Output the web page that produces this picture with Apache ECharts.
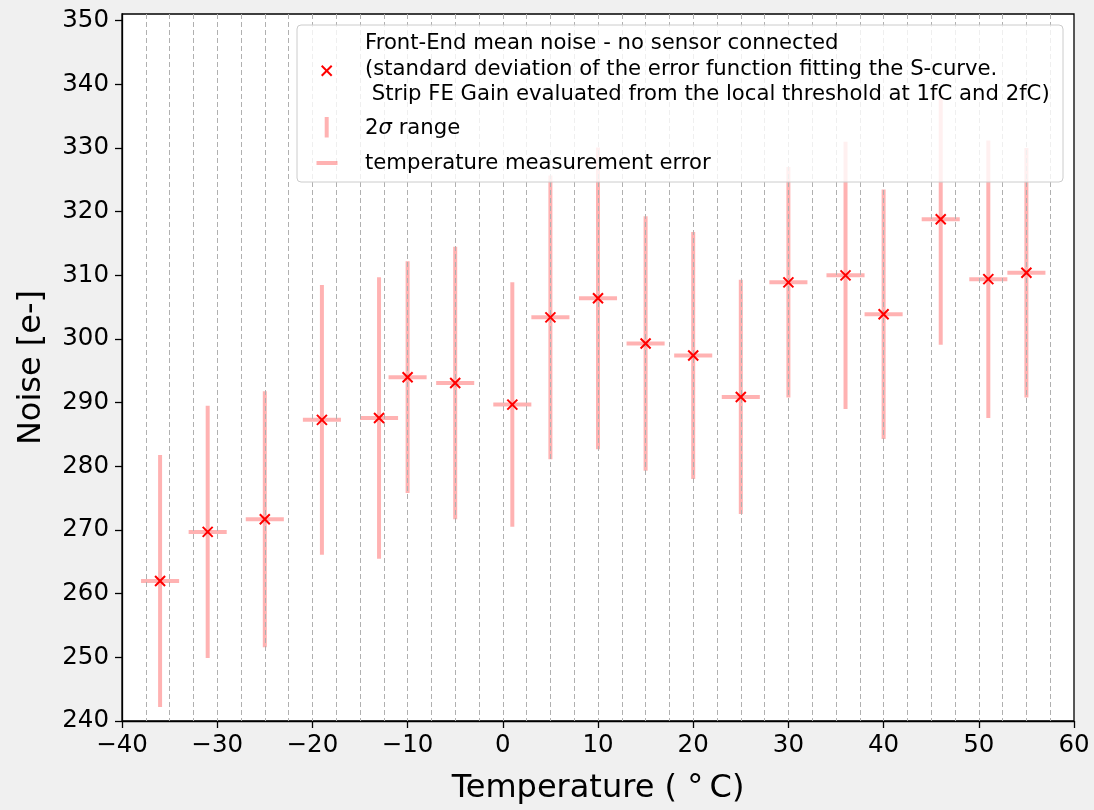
<!DOCTYPE html>
<html>
<head>
<meta charset="utf-8">
<title>Front-End noise vs temperature</title>
<script src="https://cdn.jsdelivr.net/npm/echarts@6/dist/echarts.min.js"></script>
<style>
  html, body { margin: 0; padding: 0; background: #f0f0f0; }
  #chart { width: 1094px; height: 810px; }
</style>
</head>
<body>
<div id="chart"></div>
<script>
// Measured front-end noise per temperature step
const temps    = [-36, -31, -25, -19, -13, -10, -5, 1, 5, 10, 15, 20, 25, 30, 36, 40, 46, 51, 55];
const noise    = [262.0, 269.7, 271.7, 287.3, 287.6, 294.0, 293.1, 289.7, 303.4, 306.4, 299.3, 297.4, 290.9, 308.9, 310.0, 303.9, 318.8, 309.4, 310.4];
// half-length of the 2-sigma bar (e-)
const noiseErr = [19.8, 19.8, 20.1, 21.2, 22.1, 18.2, 21.4, 19.2, 22.3, 23.7, 20.0, 19.4, 18.4, 18.1, 21.0, 19.6, 19.7, 21.8, 19.6];
// temperature measurement uncertainty (°C)
const tempErr  = [2, 2, 2, 2, 2, 2, 2, 2, 2, 2, 2, 2, 2, 2, 2, 2, 2, 2, 2];
const yTicks   = [240, 250, 260, 270, 280, 290, 300, 310, 320, 330, 340, 350];

const legendLines = [
  'Front-End mean noise - no sensor connected',
  '(standard deviation of the error function fitting the S-curve.',
  ' Strip FE Gain evaluated from the local threshold at 1fC and 2fC)'
];

const FONT = '"DejaVu Sans", sans-serif';
const ERR_COLOR = 'rgba(255,0,0,0.3)';
const LEGEND_FONT = 21.2;

const points = temps.map((t, i) => [t, noise[i]]);
const errRows = temps.map((t, i) => [t, noise[i], noiseErr[i], tempErr[i]]);

// vertical (noise) and horizontal (temperature) error bars around each point
function renderErr(params, api) {
  const x = api.value(0), y = api.value(1), dy = api.value(2), dx = api.value(3);
  const top = api.coord([x, y + dy]), bot = api.coord([x, y - dy]);
  const left = api.coord([x - dx, y]), right = api.coord([x + dx, y]);
  const style = { stroke: ERR_COLOR, lineWidth: 4, lineCap: 'butt' };
  return {
    type: 'group',
    children: [
      { type: 'line', shape: { x1: top[0], y1: top[1], x2: bot[0], y2: bot[1] }, style },
      { type: 'line', shape: { x1: left[0], y1: left[1], x2: right[0], y2: right[1] }, style }
    ]
  };
}

const minus = v => (v < 0 ? '\u2212' + Math.abs(v) : String(v));

const chart = echarts.init(document.getElementById('chart'), null, { renderer: 'canvas' });

// legend drawn as a framed box in the upper part of the plot
const legendX = 297, legendY = 25;
const mx = 326.7, my = 70.7;
const legendGraphics = [
  {
    type: 'rect', z: 100, silent: true,
    shape: { x: legendX, y: legendY, width: 766, height: 157, r: 4 },
    style: { fill: 'rgba(255,255,255,0.8)', stroke: '#cccccc', lineWidth: 1 }
  },
  { type: 'line', z: 102, silent: true, shape: { x1: mx - 5, y1: my - 5, x2: mx + 5, y2: my + 5 }, style: { stroke: '#ff0000', lineWidth: 2 } },
  { type: 'line', z: 102, silent: true, shape: { x1: mx - 5, y1: my + 5, x2: mx + 5, y2: my - 5 }, style: { stroke: '#ff0000', lineWidth: 2 } },
  { type: 'line', z: 102, silent: true, shape: { x1: 326.7, y1: 117, x2: 326.7, y2: 137.5 }, style: { stroke: ERR_COLOR, lineWidth: 4 } },
  { type: 'line', z: 102, silent: true, shape: { x1: 316.5, y1: 163, x2: 337.5, y2: 163 }, style: { stroke: ERR_COLOR, lineWidth: 4 } }
];
const lineY = [43.3, 69.3, 94.5];
legendLines.forEach((txt, i) => {
  legendGraphics.push({
    type: 'text', z: 102, silent: true, x: 365, y: lineY[i],
    style: { text: txt, font: LEGEND_FONT + 'px ' + FONT, fill: '#000', verticalAlign: 'middle', textAlign: 'left' }
  });
});
legendGraphics.push({
  type: 'text', z: 102, silent: true, x: 365, y: 128.5,
  style: {
    text: '2{i|σ} range', font: LEGEND_FONT + 'px ' + FONT, fill: '#000', verticalAlign: 'middle',
    rich: { i: { fontStyle: 'italic', fontSize: LEGEND_FONT, fontFamily: FONT, fill: '#000' } }
  }
});
legendGraphics.push({
  type: 'text', z: 102, silent: true, x: 365, y: 163.5,
  style: { text: 'temperature measurement error', font: LEGEND_FONT + 'px ' + FONT, fill: '#000', verticalAlign: 'middle' }
});

const option = {
  backgroundColor: '#f0f0f0',
  animation: false,
  textStyle: { fontFamily: FONT },
  grid: {
    left: 122, top: 14, width: 952, height: 709,
    show: true, backgroundColor: '#ffffff', borderColor: '#000', borderWidth: 1.3
  },
  xAxis: [
    {
      type: 'value', min: -40, max: 60, interval: 10,
      name: 'Temperature ( °\u2009C)', nameLocation: 'middle', nameGap: 52,
      nameTextStyle: { fontSize: 32, fontFamily: FONT, color: '#000' },
      axisLine: { show: true, onZero: false, lineStyle: { color: '#000', width: 1.3 } },
      axisTick: { show: true, length: 7, lineStyle: { color: '#000', width: 1.3 } },
      axisLabel: { fontSize: 24.5, color: '#000', margin: 12, fontFamily: FONT, formatter: minus },
      splitLine: { show: false }
    },
    {
      // finer vertical guides every 2.5 °C, drawn above the error bars
      type: 'value', min: -40, max: 60, interval: 2.5, z: 3,
      axisLine: { show: false, onZero: false }, axisTick: { show: false }, axisLabel: { show: false },
      splitLine: {
        show: true, showMinLine: false, showMaxLine: false,
        lineStyle: { color: '#b0b0b0', width: 1, type: [5, 3] }
      }
    }
  ],
  yAxis: {
    type: 'value', min: 240, max: 351.05, interval: 10,
    name: 'Noise [e-]', nameLocation: 'middle', nameGap: 74, nameRotate: 90,
    nameTextStyle: { fontSize: 32, fontFamily: FONT, color: '#000' },
    axisLine: { show: true, onZero: false, lineStyle: { color: '#000', width: 1.3 } },
    axisTick: { show: true, length: 7, customValues: yTicks, lineStyle: { color: '#000', width: 1.3 } },
    axisLabel: {
      fontSize: 24.5, color: '#000', margin: 13, fontFamily: FONT, customValues: yTicks,
      formatter: v => (Math.abs(v % 10) < 1e-6 ? String(v) : '')
    },
    splitLine: { show: false }
  },
  series: [
    {
      type: 'custom', name: 'errors', xAxisIndex: 0, yAxisIndex: 0, z: 2,
      renderItem: renderErr, data: errRows, silent: true
    },
    {
      type: 'scatter', name: 'noise', xAxisIndex: 0, yAxisIndex: 0, z: 5,
      data: points, symbol: 'path://M0,0L10,10M10,0L0,10', symbolSize: 10,
      itemStyle: { color: 'rgba(0,0,0,0)', borderColor: '#ff0000', borderWidth: 2, opacity: 1 },
      silent: true
    }
  ],
  graphic: legendGraphics
};

chart.setOption(option);
</script>
</body>
</html>
